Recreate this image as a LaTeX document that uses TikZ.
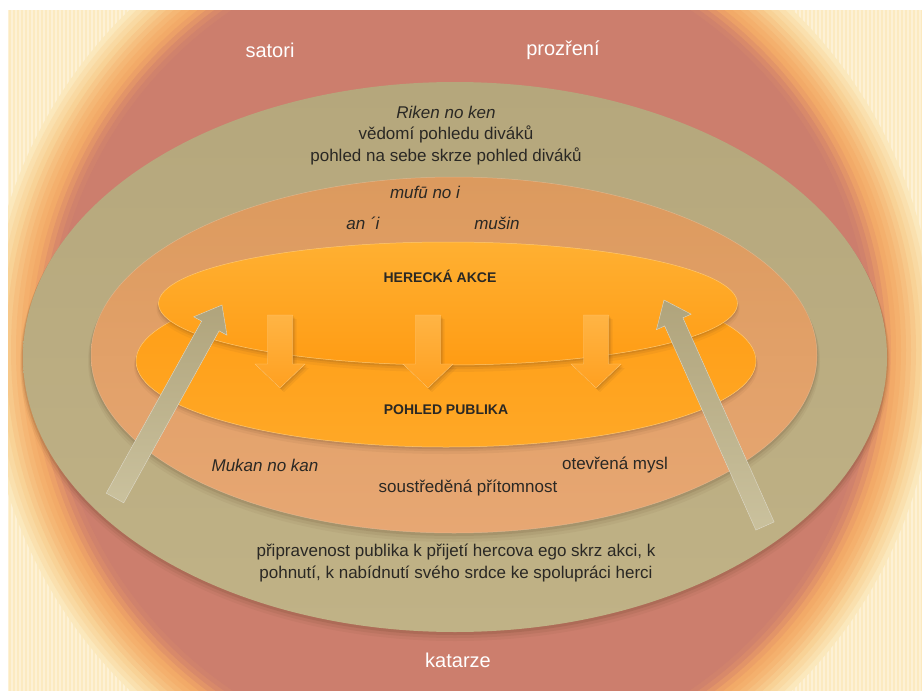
\documentclass[tikz,border=0pt]{standalone}
\usepackage{fontspec}
\setmainfont{Liberation Sans}
\usetikzlibrary{calc}
\definecolor{cRed}{HTML}{CC7E6D}
\definecolor{cCream}{HTML}{FCEAC0}
\definecolor{oliveTop}{HTML}{B5A77C}
\definecolor{oliveMid}{HTML}{A49669}
\definecolor{oliveBot}{HTML}{C0B286}
\definecolor{midTop}{HTML}{DC9A5E}
\definecolor{midMid}{HTML}{D08A4D}
\definecolor{midBot}{HTML}{E7A773}
\definecolor{orA}{HTML}{FFB032}
\definecolor{orB}{HTML}{FF9C14}
\definecolor{orC}{HTML}{FFA826}
\definecolor{arA}{HTML}{FFB444}
\definecolor{arB}{HTML}{FFA020}
\definecolor{txt}{HTML}{2A2824}
\definecolor{khakiA}{HTML}{B0A47C}
\definecolor{khakiB}{HTML}{CAC19D}
\definecolor{shadowc}{HTML}{5A3A1E}
\tikzset{
  lbl/.style={text=txt, font=\fontsize{17}{20}\selectfont, inner sep=0pt},
  ilbl/.style={lbl, font=\fontsize{17}{20}\selectfont\itshape},
  wlbl/.style={text=white, font=\fontsize{20}{24}\selectfont, inner sep=0pt},
  blbl/.style={text=txt, font=\fontsize{14}{17}\selectfont\bfseries, inner sep=0pt},
  uparrow/.style={top color=khakiA, bottom color=khakiB, draw=white!60!khakiA, line width=0.4pt},
  downarrowblock/.style={top color=arA, bottom color=arB, draw=arA!70!white, line width=0.3pt},
  shadowfill/.style={fill=shadowc, draw=none},
  band/.style={draw=none}
}
\begin{document}
\begin{tikzpicture}[x=1pt,y=-1pt]
\useasboundingbox (0,0) rectangle (922,691);
\fill[white] (0,0) rectangle (922,691);
% background glow: explicit bands
\begin{scope}
  \clip (8,10) rectangle (922,691);
  \fill[cCream] (8,10) rectangle (922,691);
  \foreach \sx in {8,12,...,922}
    \draw[white, opacity=0.35, line width=1.1pt] (\sx,10) -- (\sx,691);
  \fill[band, fill={rgb,255:red,251;green,232;blue,188}] (461,350) circle (475pt);
  \fill[band, fill={rgb,255:red,250;green,224;blue,174}] (461,350) circle (470pt);
  \fill[band, fill={rgb,255:red,249;green,217;blue,162}] (461,350) circle (465pt);
  \fill[band, fill={rgb,255:red,248;green,210;blue,150}] (461,350) circle (460pt);
  \fill[band, fill={rgb,255:red,247;green,200;blue,138}] (461,350) circle (455pt);
  \fill[band, fill={rgb,255:red,246;green,191;blue,127}] (461,350) circle (450pt);
  \fill[band, fill={rgb,255:red,245;green,183;blue,117}] (461,350) circle (445pt);
  \fill[band, fill={rgb,255:red,244;green,176;blue,109}] (461,350) circle (440pt);
  \fill[band, fill={rgb,255:red,242;green,170;blue,104}] (461,350) circle (435pt);
  \fill[band, fill={rgb,255:red,236;green,160;blue,103}] (461,350) circle (430pt);
  \fill[band, fill={rgb,255:red,226;green,148;blue,104}] (461,350) circle (425pt);
  \fill[band, fill={rgb,255:red,216;green,137;blue,106}] (461,350) circle (420pt);
  \fill[band, fill={rgb,255:red,208;green,130;blue,108}] (461,350) circle (415pt);
  \fill[band, fill=cRed] (461,350) circle (410pt);
\end{scope}
% olive ellipse with shadow
\foreach \k/\o in {6/0.06,4/0.09,2/0.14}
  \fill[shadowfill, opacity=\o] (455,{357+\k}) ellipse [x radius={432pt+\k pt*0.5}, y radius={275pt+\k pt*0.5}];
\shade[top color=oliveTop, middle color=oliveMid, bottom color=oliveBot] (455,357) ellipse [x radius=432pt, y radius=275pt];
% middle ellipse with shadow
\foreach \k/\o in {6/0.06,4/0.08,2/0.12}
  \fill[shadowfill, opacity=\o] (454,{355+\k}) ellipse [x radius={363pt+\k pt*0.5}, y radius={178pt+\k pt*0.5}];
\shade[top color=midTop, middle color=midMid, bottom color=midBot] (454,355) ellipse [x radius=363pt, y radius=178pt];
\draw[white!40!midTop, opacity=0.6, line width=0.5pt] (454,355) ellipse [x radius=363pt, y radius=178pt];
% bottom orange ellipse
\foreach \k/\o in {5/0.06,3/0.09,1.5/0.12}
  \fill[shadowfill, opacity=\o] (446,{361+\k}) ellipse [x radius={310pt+\k pt*0.4}, y radius={86pt+\k pt*0.4}];
\shade[top color=orB, bottom color=orC] (446,361) ellipse [x radius=310pt, y radius=86pt];
\draw[orA!70!white, line width=0.5pt] (446,361) ellipse [x radius=310pt, y radius=86pt];
% top orange ellipse
\foreach \k/\o in {5/0.06,3/0.09,1.5/0.12}
  \fill[shadowfill, opacity=\o] (448,{303.5+\k}) ellipse [x radius={289.5pt+\k pt*0.4}, y radius={61.5pt+\k pt*0.4}];
\shade[top color=orA, bottom color=orB] (448,303.5) ellipse [x radius=289.5pt, y radius=61.5pt];
\draw[orA!70!white, line width=0.5pt] (448,303.5) ellipse [x radius=289.5pt, y radius=61.5pt];
% down arrows
\foreach \c/\n in {280/da1, 428/da2, 596/da3} {
  \coordinate (\n) at (\c,388);
  \foreach \d/\o in {4/0.07, 2.5/0.1, 1.2/0.12}
    \fill[shadowfill, opacity=\o] ({\c-12.5+\d},{315+\d}) -- ({\c+12.5+\d},{315+\d}) -- ({\c+12.5+\d},{364+\d}) -- ({\c+25+\d},{364+\d}) -- ({\c+\d},{388+\d}) -- ({\c-25+\d},{364+\d}) -- ({\c-12.5+\d},{364+\d}) -- cycle;
  \shade[downarrowblock] ({\c-12.5},315) -- ({\c+12.5},315) -- ({\c+12.5},364) -- ({\c+25},364) -- (\n) -- ({\c-25},364) -- ({\c-12.5},364) -- cycle;
}
% up arrows
\coordinate (lB) at (115,498);
\coordinate (lT) at (222,305);
\coordinate (lH) at ($(lT)!24pt!(lB)$);
\coordinate (rB) at (765,526);
\coordinate (rT) at (664,300);
\coordinate (rH) at ($(rT)!24pt!(rB)$);
\foreach \b/\h/\t in {lB/lH/lT, rB/rH/rT} {
  \foreach \d/\o in {3.5/0.07, 2/0.1}
    \fill[shadowfill, opacity=\o, shift={(\d pt,-\d pt)}] ($(\b)!10pt!90:(\t)$) -- ($(\h)!10pt!90:(\t)$) -- ($(\h)!19pt!90:(\t)$) -- (\t) -- ($(\h)!19pt!-90:(\t)$) -- ($(\h)!10pt!-90:(\t)$) -- ($(\b)!10pt!-90:(\t)$) -- cycle;
  \shade[uparrow] ($(\b)!10pt!90:(\t)$) -- ($(\h)!10pt!90:(\t)$) -- ($(\h)!19pt!90:(\t)$) -- (\t) -- ($(\h)!19pt!-90:(\t)$) -- ($(\h)!10pt!-90:(\t)$) -- ($(\b)!10pt!-90:(\t)$) -- cycle;
}
% texts
\node[wlbl] (satori) at (270,50) {satori};
\node[wlbl] (prozreni) at (563,50) {prozření};
\node[wlbl] (katarze) at (458,660) {katarze};
\node[ilbl] (riken) at (446,112) {Riken no ken};
\node[lbl] (vedomi) at (446,134) {vědomí pohledu diváků};
\node[lbl] (pohled) at (446,156) {pohled na sebe skrze pohled diváků};
\node[ilbl] (mufu) at (425,192) {mufū no i};
\node[ilbl] (ani) at (363,223) {an ´i};
\node[ilbl] (musin) at (497,223) {mušin};
\node[blbl] (herecka) at (440,276) {HERECKÁ AKCE};
\node[blbl] (publika) at (446,410) {POHLED PUBLIKA};
\node[ilbl] (mukan) at (265,465) {Mukan no kan};
\node[lbl] (oteviena) at (615,465) {otevřená mysl};
\node[lbl] (soustredena) at (468,488) {soustředěná přítomnost};
\node[lbl] (pripravenost) at (456,552) {připravenost publika k přijetí hercova ego skrz akci, k};
\node[lbl] (pohnuti) at (456,574) {pohnutí, k nabídnutí svého srdce ke spolupráci herci};
\end{tikzpicture}
\end{document}
